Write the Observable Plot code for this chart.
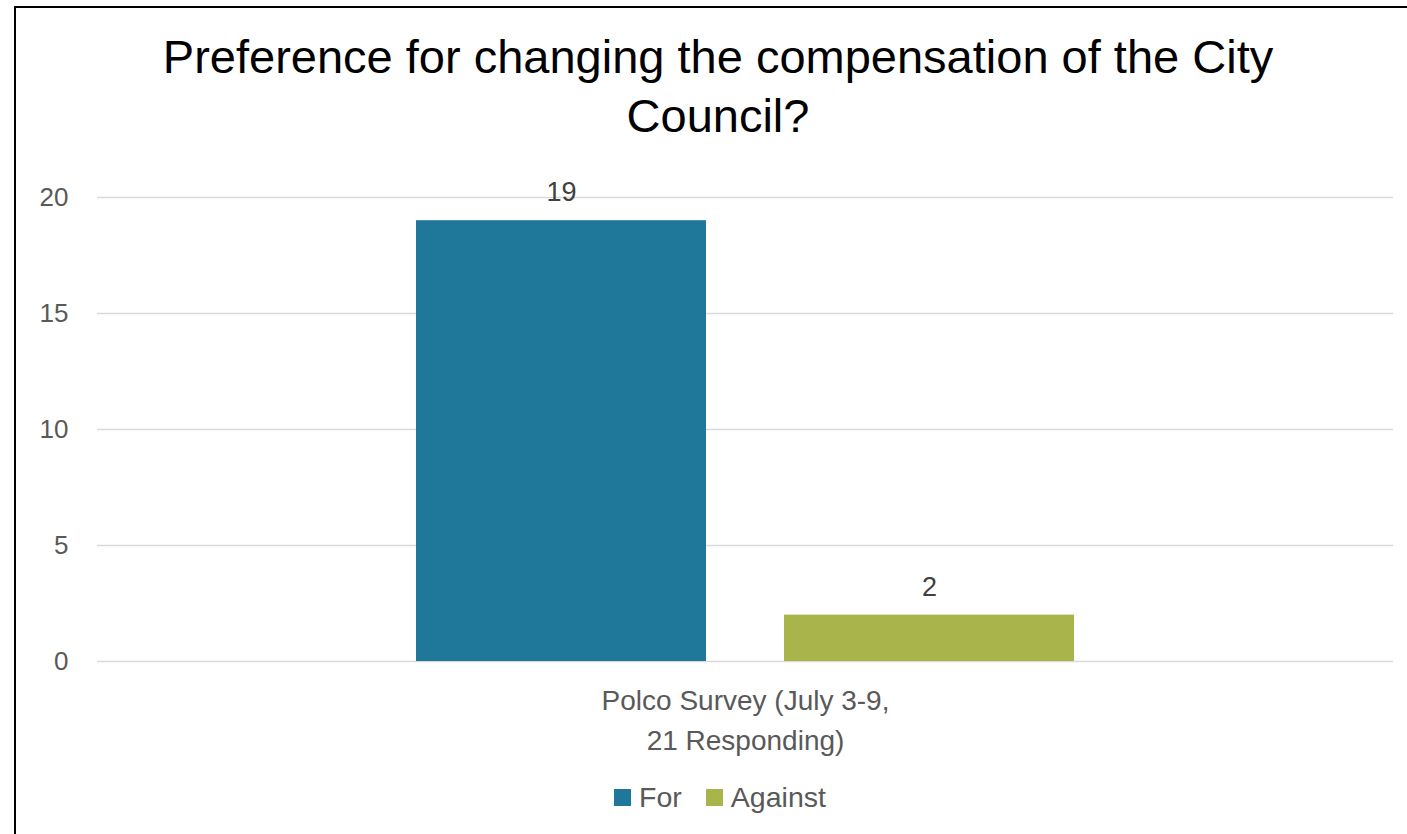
<!DOCTYPE html>
<html>
<head>
<meta charset="utf-8">
<script src="https://cdn.jsdelivr.net/npm/d3@7"></script>
<script src="https://cdn.jsdelivr.net/npm/@observablehq/plot@0.6"></script>
<style>
  html, body { margin: 0; padding: 0; background: #fff; overflow: hidden; width: 1407px; height: 834px; }
  #frame { position: absolute; left: 14px; top: 6px; width: 1420px; height: 860px; border: 2px solid #000; box-sizing: border-box; }
  #title { position: absolute; left: 14px; top: 27px; width: 1408px; text-align: center; font-family: "Liberation Sans", Arial, sans-serif; font-size: 47px; line-height: 59px; color: #000; }
  #chart { position: absolute; left: 0; top: 160px; }
  #legend { position: absolute; left: 0; top: 781px; width: 1440px; display: flex; justify-content: center; align-items: center; font-family: "Liberation Sans", Arial, sans-serif; font-size: 28.5px; color: #595959; }
  .item { display: flex; align-items: center; margin: 0 12px; }
  .sw { width: 17px; height: 17px; margin-right: 8px; }
</style>
</head>
<body>
<div id="frame"></div>
<div id="title">Preference for changing the compensation of the City<br>Council?</div>
<div id="chart"></div>
<div id="legend"></div>
<script>
const categories = ["Polco Survey (July 3-9,\n21 Responding)"];
const series = ["For", "Against"];
const values = [19, 2];
const colors = ["#1f7899", "#a9b44a"];
const yTicks = [0, 5, 10, 15, 20];

const data = series.map((s, i) => ({category: categories[0], series: s, value: values[i]}));

const font = '"Liberation Sans", Arial, sans-serif';

const chart = Plot.plot({
  width: 1407,
  height: 601,
  marginLeft: 97,
  marginRight: 14,
  marginTop: 37,
  marginBottom: 100,
  style: {fontFamily: font, fontSize: "26px", color: "#595959", background: "transparent", overflow: "visible"},
  fx: {domain: categories, paddingInner: 0, paddingOuter: 0, label: null},
  x: {domain: series, paddingInner: 0.2114, paddingOuter: 0.862, axis: null},
  y: {domain: [0, 20], ticks: yTicks, label: null, axis: null},
  color: {domain: series, range: colors},
  marks: [
    Plot.gridY(yTicks, {stroke: "#d9d9d9", strokeOpacity: 1, strokeWidth: 1.5}),
    Plot.axisY(yTicks, {tickSize: 0, tickPadding: 29, label: null, fill: "#595959", fontSize: 26}),
    Plot.axisFx({anchor: "bottom", tickSize: 0, tickPadding: 20, label: null, fill: "#595959", fontSize: 28, lineHeight: 1.43}),
    Plot.barY(data, {fx: "category", x: "series", y: "value", fill: "series"}),
    Plot.text(data, {fx: "category", x: "series", y: "value", text: d => String(d.value), dy: -28, fill: "#404040", fontSize: 27})
  ]
});
document.getElementById("chart").appendChild(chart);

const color = chart.scale("color");
const legendEl = document.getElementById("legend");
series.forEach((s, i) => {
  const item = document.createElement("div");
  item.className = "item";
  const sw = document.createElement("div");
  sw.className = "sw";
  sw.style.background = color.range[i];
  const label = document.createElement("span");
  label.textContent = s;
  item.appendChild(sw);
  item.appendChild(label);
  legendEl.appendChild(item);
});
</script>
</body>
</html>
